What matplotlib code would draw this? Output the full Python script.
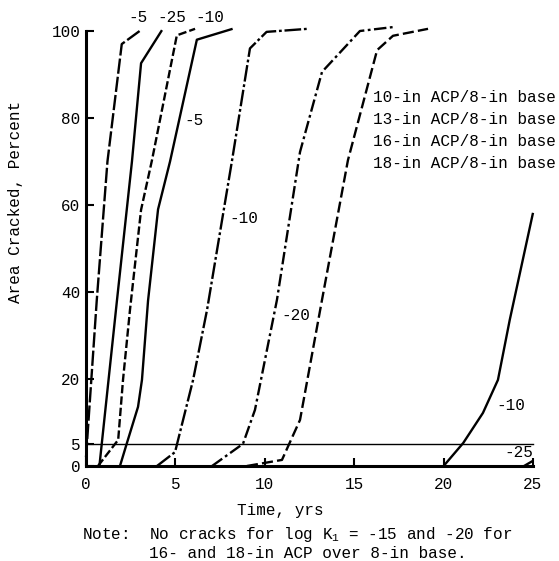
import matplotlib
matplotlib.use("Agg")
import matplotlib.pyplot as plt

plt.rcParams['lines.scale_dashes'] = False
plt.rcParams['font.family'] = ['Liberation Mono', 'DejaVu Sans Mono']
plt.rcParams['mathtext.fontset'] = 'custom'
plt.rcParams['mathtext.rm'] = 'Liberation Mono'
plt.rcParams['mathtext.it'] = 'Liberation Mono'
plt.rcParams['mathtext.default'] = 'rm'

# ---- data (time in years, area cracked in percent) ----
a_t = [0.0, 0.6, 1.2, 2.0, 3.1]
a_y = [2.0, 38.0, 70.0, 97.0, 100.3]

b_t = [0.75, 1.73, 2.57, 3.08, 4.25]
b_y = [0.0, 38.0, 70.0, 92.6, 100.2]

c_t = [0.67, 1.8, 2.07, 2.46, 3.08, 3.69, 5.08, 6.1]
c_y = [0.0, 6.0, 19.8, 35.9, 58.9, 70.3, 99.0, 100.5]

d_t = [1.9, 2.29, 2.91, 3.13, 3.47, 4.03, 4.7, 6.2, 8.2]
d_y = [0.0, 5.3, 13.6, 19.8, 38.0, 59.0, 70.0, 98.0, 100.5]

e_t = [3.97, 4.98, 5.99, 6.77, 8.17, 9.17, 10.1, 12.4]
e_y = [0.0, 3.2, 19.8, 35.9, 70.3, 96.0, 99.8, 100.5]

f_t = [7.05, 8.78, 9.45, 10.68, 11.97, 13.2, 15.32, 17.17]
f_y = [0.0, 5.1, 12.9, 38.2, 72.2, 90.6, 100.0, 100.9]

g_t = [9.0, 10.96, 11.97, 13.2, 14.65, 16.28, 17.17, 19.13]
g_y = [0.0, 1.4, 10.6, 38.2, 70.3, 95.6, 98.9, 100.5]

h_t = [20.0, 21.1, 22.2, 23.04, 23.7, 25.0]
h_y = [0.0, 5.3, 12.2, 19.8, 33.6, 58.2]

k_t = [24.5, 25.0]
k_y = [0.0, 1.2]

threshold = 5

x_ticks = [0, 5, 10, 15, 20, 25]
y_ticks = [0, 5, 20, 40, 60, 80, 100]

legend_lines = ["10-in ACP/8-in base", "13-in ACP/8-in base",
                "16-in ACP/8-in base", "18-in ACP/8-in base"]

# ---- figure ----
W, H = 559, 561
fig = plt.figure(figsize=(W / 100, H / 100), dpi=100)
ax = fig.add_axes([86 / W, 1 - 466 / H, (533 - 86) / W, (466 - 31) / H])
ax.set_xlim(0, 25)
ax.set_ylim(0, 100)

lw = 1.7
common = dict(color='black', lw=lw, clip_on=False, solid_capstyle='butt',
              dash_capstyle='butt')
ax.plot(a_t, a_y, dashes=(11, 2.2), **common)
ax.plot(b_t, b_y, ls='-', **common)
ax.plot(c_t, c_y, dashes=(6, 2.2), **common)
ax.plot(d_t, d_y, ls='-', **common)
ax.plot(e_t, e_y, dashes=(12, 2, 2, 2), **common)
ax.plot(f_t, f_y, dashes=(9, 2.5, 2, 2.5), **common)
ax.plot(g_t, g_y, dashes=(8, 3), **common)
ax.plot(h_t, h_y, ls='-', **common)
ax.plot(k_t, k_y, ls='-', **common)

ax.axhline(threshold, color='black', lw=1.0, clip_on=False)

for s in ['top', 'right']:
    ax.spines[s].set_visible(False)
for s in ['left', 'bottom']:
    ax.spines[s].set_linewidth(2.2)

ax.set_xticks(x_ticks)
ax.set_yticks(y_ticks)
ax.tick_params(axis='both', direction='in', length=6, width=1.5,
               labelsize=11.5, colors='black')
ax.tick_params(axis='x', pad=8)
ax.tick_params(axis='y', pad=4)

fs = 11.5
# curve labels
labels = [("-5", 2.9, 103.2), ("-25", 4.8, 103.2), ("-10", 6.9, 103.2),
          ("-5", 6.04, 79.5), ("-10", 8.84, 57.0), ("-20", 11.74, 34.7),
          ("-10", 23.77, 13.8), ("-25", 24.2, 3.2)]
for txt, x, y in labels:
    ax.text(x, y, txt, ha='center', va='center', fontsize=fs, clip_on=False)

# legend text (no line samples)
for i, line in enumerate(legend_lines):
    ax.text(16.05, 84.6 - i * 5.0, line, ha='left', va='center', fontsize=fs)

# axis titles
fig.text(280 / W, 1 - 510 / H, "Time, yrs", ha='center', va='center', fontsize=fs)
fig.text(16 / W, 1 - 202 / H, "Area Cracked, Percent", ha='center', va='center',
         rotation=90, fontsize=fs)

# note
cw = 0.60009 * fs * 100 / 72  # monospace char width in px
x0 = 82
note1 = "Note:  No cracks for log K$_1$ = -15 and -20 for"
fig.text(x0 / W, 1 - 535 / H, note1, ha='left', va='center', fontsize=fs)
fig.text((x0 + 7 * cw) / W, 1 - 554 / H, "16- and 18-in ACP over 8-in base.",
         ha='left', va='center', fontsize=fs)

fig.savefig("out.png", dpi=100)
